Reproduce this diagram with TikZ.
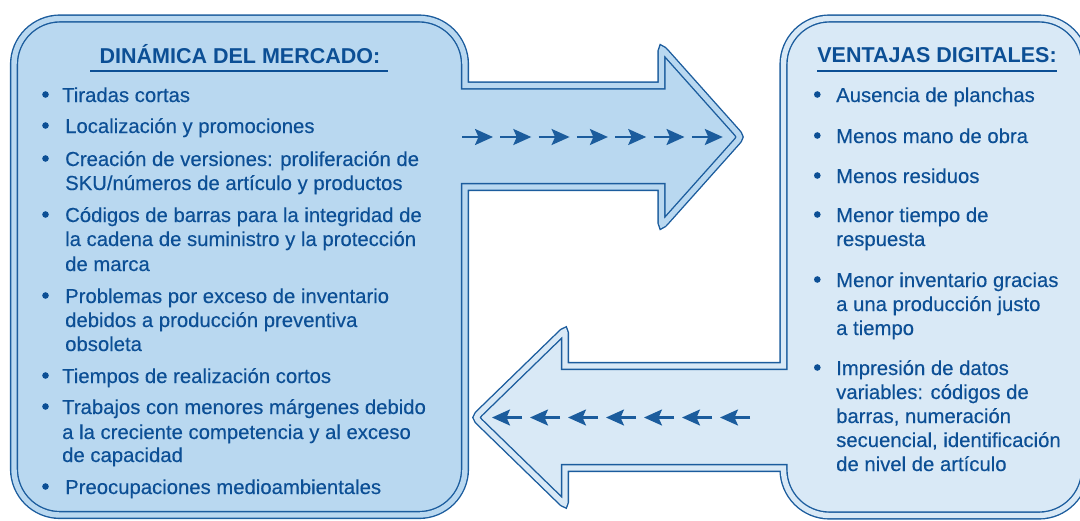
\documentclass[tikz,border=0pt]{standalone}
\usepackage{fontspec}
\setmainfont{Liberation Sans}
\usetikzlibrary{arrows.meta}
\definecolor{lineblue}{HTML}{1B5C9D}
\definecolor{textblue}{HTML}{0C4F95}
\definecolor{leftfill}{HTML}{B9D8F0}
\definecolor{rightfill}{HTML}{D9E9F6}
\tikzset{
  outline/.style={draw=lineblue, line width=1.4pt, double distance=5.4pt},
  txt/.style={anchor=base west, inner sep=0pt, text=textblue, font=\fontsize{20.3}{24}\selectfont\addfontfeature{FakeBold=0.3}},
  ttl/.style={anchor=base, inner sep=0pt, text=textblue, font=\fontsize{21.5}{24}\selectfont\bfseries},
  uline/.style={draw=textblue, line width=2pt},
  bul/.style={fill=textblue},
  smallarrow/.style={draw=lineblue, line width=2.2pt, -{Stealth[length=18pt 0,width=16pt 0,inset=3.5pt 0]}}
}
\begin{document}
\begin{tikzpicture}[x=1pt,y=-1pt]
\useasboundingbox (0,0) rectangle (1080,520);
\clip (0,0) rectangle (1080,520);

% left box with right-pointing arrow
\draw[outline, fill=leftfill, double=leftfill]
  (14,300) -- (14,64.5) arc (180:270:46) -- (419,18.5) arc (270:360:46)
  -- (465,85.5) -- (661.5,85.5) -- (661.5,55) .. controls (661.5,48) .. (666.2,53.2)
  -- (735,130.3) .. controls (741,137) .. (735,143.7)
  -- (666.2,220.8) .. controls (661.5,226) .. (661.5,219)
  -- (661.5,187) -- (465,187) -- (465,469) arc (0:90:46)
  -- (60,515) arc (90:180:46) -- cycle;

% right box with left-pointing arrow
\draw[outline, fill=rightfill, double=rightfill]
  (783.5,366) -- (783.5,64.5) arc (180:270:46) -- (1039,18.5) arc (270:360:46)
  -- (1085,469.5) arc (0:90:46) -- (829.5,515.5) arc (90:180:46)
  -- (783.5,468) -- (565,468) -- (565,498) .. controls (565,505) .. (560,500.1)
  -- (481.5,423.8) .. controls (475,417.5) .. (481.5,411.2)
  -- (560,334.9) .. controls (565,330) .. (565,337)
  -- (565,366) -- cycle;

% small arrows
\foreach \i in {0,...,6}{
  \coordinate (ra\i) at (462+38.3*\i,137);
  \coordinate (rb\i) at (493+38.3*\i,137);
  \draw[smallarrow] (ra\i) -- (rb\i);
  \coordinate (la\i) at (522+38*\i,417.5);
  \coordinate (lb\i) at (492+38*\i,417.5);
  \draw[smallarrow] (la\i) -- (lb\i);
}

% titles
\node[ttl] (ltitle) at (240,63) {DINÁMICA DEL MERCADO:};
\coordinate (lu1) at (90,71);
\coordinate (lu2) at (388,71);
\draw[uline] (lu1) -- (lu2);
\node[ttl] (rtitle) at (937,62) {VENTAJAS DIGITALES:};
\coordinate (ru1) at (817,71);
\coordinate (ru2) at (1057,71);
\draw[uline] (ru1) -- (ru2);

% left list
\foreach \y in {102,133,166,222,303,383,414,494}{\fill[bul] (45.5,\y-7.5) circle (3.3);}
\node[txt] (l1)  at (62,102) {Tiradas cortas};
\node[txt] (l2)  at (65,133) {Localización y promociones};
\node[txt] (l3a) at (65,166) {Creación de versiones: proliferación de};
\node[txt] (l3b) at (65,190) {SKU/números de artículo y productos};
\node[txt] (l4a) at (65,222) {Códigos de barras para la integridad de};
\node[txt] (l4b) at (65,246) {la cadena de suministro y la protección};
\node[txt] (l4c) at (65,271) {de marca};
\node[txt] (l5a) at (65,303) {Problemas por exceso de inventario};
\node[txt] (l5b) at (65,327) {debidos a producción preventiva};
\node[txt] (l5c) at (65,351) {obsoleta};
\node[txt] (l6)  at (62,383) {Tiempos de realización cortos};
\node[txt] (l7a) at (62,414) {Trabajos con menores márgenes debido};
\node[txt] (l7b) at (62,439) {a la creciente competencia y al exceso};
\node[txt] (l7c) at (62,462) {de capacidad};
\node[txt] (l8)  at (65,494) {Preocupaciones medioambientales};

% right list
\foreach \y in {102,143,183,222,287,375}{\fill[bul] (817.3,\y-7.5) circle (3.3);}
\node[txt] (r1)  at (836,102) {Ausencia de planchas};
\node[txt] (r2)  at (836,143) {Menos mano de obra};
\node[txt] (r3)  at (836,183) {Menos residuos};
\node[txt] (r4a) at (836,222) {Menor tiempo de};
\node[txt] (r4b) at (836,246) {respuesta};
\node[txt] (r5a) at (836,287) {Menor inventario gracias};
\node[txt] (r5b) at (836,311) {a una producción justo};
\node[txt] (r5c) at (836,335) {a tiempo};
\node[txt] (r6a) at (836,375) {Impresión de datos};
\node[txt] (r6b) at (836,399) {variables: códigos de};
\node[txt] (r6c) at (836,423) {barras, numeración};
\node[txt] (r6d) at (836,447) {secuencial, identificación};
\node[txt] (r6e) at (836,471) {de nivel de artículo};
\end{tikzpicture}
\end{document}
